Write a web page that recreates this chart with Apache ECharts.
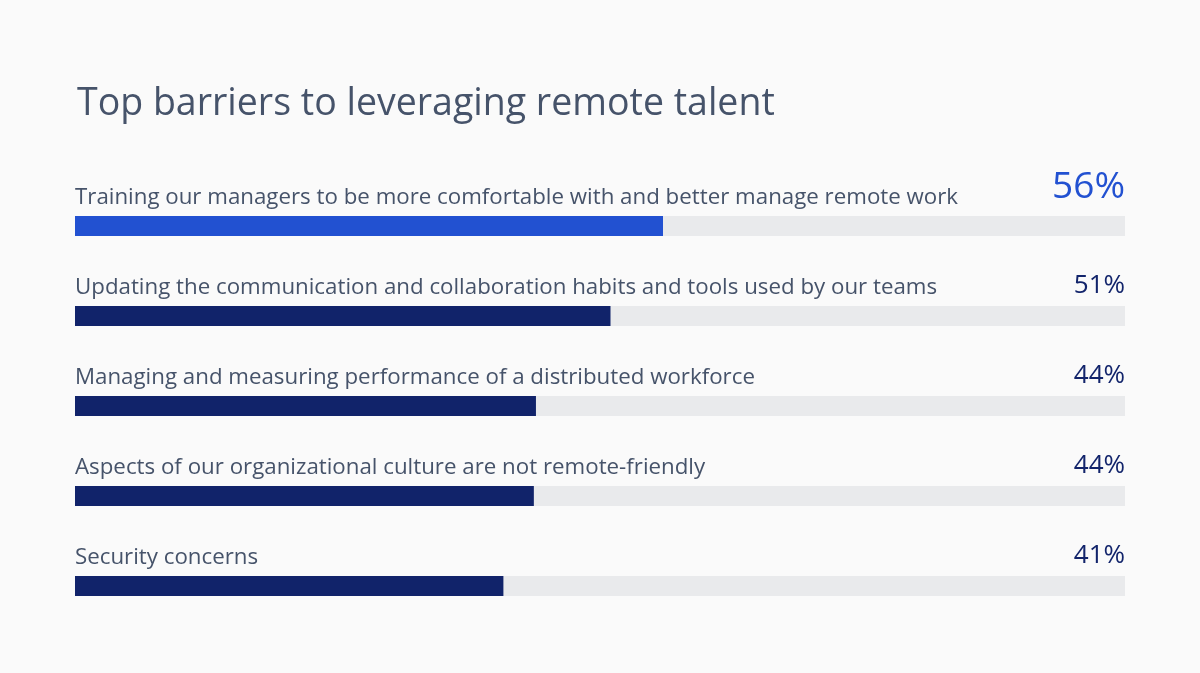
<!DOCTYPE html>
<html>
<head>
<meta charset="utf-8">
<script src="https://cdn.jsdelivr.net/npm/echarts@6/dist/echarts.min.js"></script>
<style>html,body{margin:0;padding:0;background:#fafafa;}#c{width:1200px;height:673px;}</style>
</head>
<body>
<div id="c"></div>
<script>
const categories = [
  "Training our managers to be more comfortable with and better manage remote work",
  "Updating the communication and collaboration habits and tools used by our teams",
  "Managing and measuring performance of a distributed workforce",
  "Aspects of our organizational culture are not remote-friendly",
  "Security concerns"
];
const values = [56, 51, 43.9, 43.7, 40.8];
const valueLabels = ["56%", "51%", "44%", "44%", "41%"];
const trackMax = 100;

const FONT = "'Open Sans'";
const chart = echarts.init(document.getElementById('c'), null, {renderer: 'canvas'});
chart.setOption({
  backgroundColor: '#fafafa',
  animation: false,
  title: {
    text: 'Top barriers to leveraging remote talent',
    left: 72, top: 80,
    textStyle: {fontFamily: FONT, fontSize: 37.5, fontWeight: 'normal', color: '#46536a'}
  },
  grid: {left: 75, right: 75, top: 181, bottom: 42},
  xAxis: {type: 'value', min: 0, max: trackMax, show: false},
  yAxis: {type: 'category', data: categories, inverse: true, show: false},
  series: [
    {
      type: 'bar', silent: true, barWidth: 20,
      data: categories.map((c, i) => ({
        value: trackMax,
        label: i === 0 ? {fontSize: 37, color: '#2251d1', offset: [0, -3]} : {}
      })),
      itemStyle: {color: '#e9eaec'},
      label: {
        show: true, position: ['100%', -7], align: 'right', verticalAlign: 'bottom',
        fontFamily: FONT, fontSize: 26, color: '#12246b',
        formatter: p => valueLabels[p.dataIndex]
      },
      z: 1
    },
    {
      type: 'bar', barWidth: 20, barGap: '-100%',
      data: values.map((v, i) => ({value: v, itemStyle: {color: i === 0 ? '#2251d1' : '#11236a'}})),
      label: {
        show: true, position: [0, -7], align: 'left', verticalAlign: 'bottom',
        fontFamily: FONT, fontSize: 22.3, color: '#46536a',
        formatter: p => categories[p.dataIndex]
      },
      z: 2
    }
  ]
});
</script>
</body>
</html>
